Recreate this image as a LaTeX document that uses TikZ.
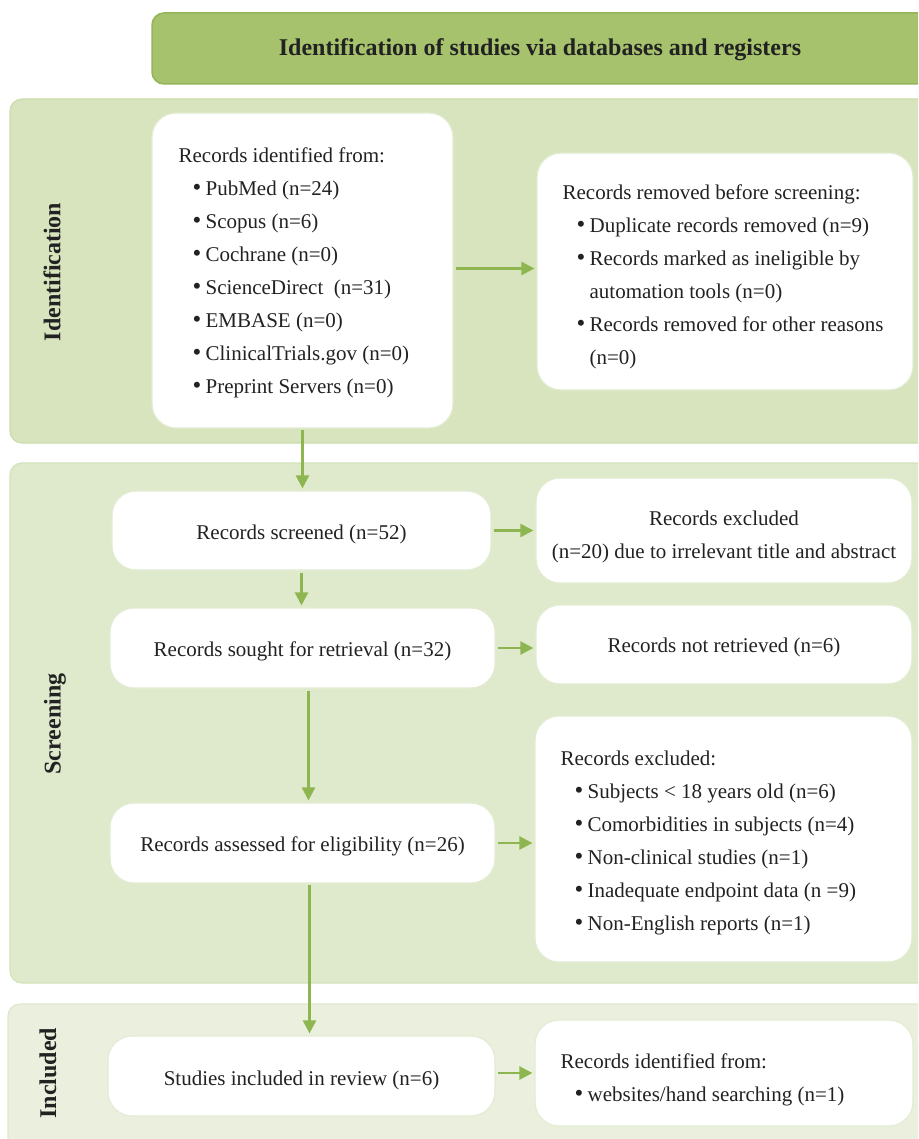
\documentclass[tikz,border=0pt]{standalone}
\usepackage{fontspec}
\setmainfont{Liberation Serif}
\usetikzlibrary{arrows.meta,calc}
\definecolor{hdrfill}{HTML}{A6C26C}
\definecolor{hdrdraw}{HTML}{94B45A}
\definecolor{idfill}{HTML}{D7E4BD}
\definecolor{iddraw}{HTML}{CCDCAE}
\definecolor{scfill}{HTML}{DFEACC}
\definecolor{scdraw}{HTML}{D3E2BA}
\definecolor{infill}{HTML}{EAF0DD}
\definecolor{indraw}{HTML}{DDE8CB}
\definecolor{boxdraw}{HTML}{E2ECD2}
\definecolor{arr}{HTML}{8DB650}
\definecolor{txt}{HTML}{222222}
\newcommand{\bl}[1]{\hspace*{14pt}\makebox[13pt][l]{\fontsize{25}{33}\selectfont\textbullet}#1}
\newcommand{\blc}[1]{\hspace*{27pt}#1}
\tikzset{
  x=1pt, y=-1pt,
  band/.style={rounded corners=12pt, line width=1.2pt},
  wbox/.style={draw=boxdraw, line width=1.2pt, fill=white, rounded corners=24pt, inner sep=0pt},
  ctext/.style={font=\fontsize{21}{33}\selectfont, text=txt, align=center, inner sep=0pt},
  ltext/.style={font=\fontsize{21}{33}\selectfont, text=txt, align=left, inner sep=0pt, anchor=west},
  side/.style={rotate=90, font=\fontsize{24}{28}\selectfont\bfseries, text=txt},
  flow/.style={draw=arr, line width=2.5pt, -{Triangle[length=13pt,width=13pt]}, shorten >=2pt},
}
\begin{document}
\begin{tikzpicture}
\useasboundingbox (0,0) rectangle (918,1139);
\clip (0,0) rectangle (918,1139);
% header
\node (hdr) [draw=hdrdraw, fill=hdrfill, line width=1.5pt, rounded corners=12pt,
  minimum width=780pt, minimum height=71pt, inner sep=0pt] at (542,48.5) {};
\node (hdrtext) [font=\fontsize{24}{28}\selectfont\bfseries, text=txt] at (540,50)
  {Identification of studies via databases and registers};
% bands
\node (bid) [band, draw=iddraw, fill=idfill, minimum width=922pt, minimum height=344pt, inner sep=0pt] at (471,271) {};
\node (bsc) [band, draw=scdraw, fill=scfill, minimum width=922pt, minimum height=520pt, inner sep=0pt] at (471,723) {};
\node (bin) [band, draw=indraw, fill=infill, minimum width=924pt, minimum height=150pt, inner sep=0pt] at (470,1079) {};
\node (lid) [side] at (52,272) {Identification};
\node (lsc) [side] at (55,724) {Screening};
\node (lin) [side] at (48,1073) {Included};
% boxes
\node (ident) [wbox, minimum width=301pt, minimum height=315pt] at (302.5,270.5) {};
\node (identt) [ltext] at ([xshift=27pt,yshift=-2pt]ident.west) {Records identified from:\\
\bl{PubMed (n=24)}\\
\bl{Scopus (n=6)}\\
\bl{Cochrane (n=0)}\\
\bl{ScienceDirect\ \ (n=31)}\\
\bl{EMBASE (n=0)}\\
\bl{ClinicalTrials.gov (n=0)}\\
\bl{Preprint Servers (n=0)}};
\node (rem) [wbox, minimum width=376pt, minimum height=237pt] at (725,271.5) {};
\node (remt) [ltext] at ([xshift=26pt,yshift=-5pt]rem.west) {Records removed before screening:\\
\bl{Duplicate records removed (n=9)}\\
\bl{Records marked as ineligible by}\\
\blc{automation tools (n=0)}\\
\bl{Records removed for other reasons}\\
\blc{(n=0)}};
\node (scr) [wbox, minimum width=379pt, minimum height=79pt] at (301.5,530.5) {};
\node (scrt) [ctext] at ([yshift=-4pt]scr.center) {Records screened (n=52)};
\node (exc1) [wbox, minimum width=376pt, minimum height=105pt] at (724,530.5) {};
\node (exc1t) [ctext] at ([yshift=-6pt]exc1.center) {Records excluded\\(n=20) due to irrelevant title and abstract};
\node (sought) [wbox, minimum width=385pt, minimum height=80pt] at (302.5,648) {};
\node (soughtt) [ctext] at ([yshift=-3pt]sought.center) {Records sought for retrieval (n=32)};
\node (notret) [wbox, minimum width=376pt, minimum height=79pt] at (724,644.5) {};
\node (notrett) [ctext] at ([yshift=-3pt]notret.center) {Records not retrieved (n=6)};
\node (assess) [wbox, minimum width=385pt, minimum height=80pt] at (302.5,843) {};
\node (assesst) [ctext] at ([yshift=-3pt]assess.center) {Records assessed for eligibility (n=26)};
\node (exc2) [wbox, minimum width=377pt, minimum height=246pt] at (723.5,839) {};
\node (exc2t) [ltext] at ([xshift=26pt,yshift=-4pt]exc2.west) {Records excluded:\\
\bl{Subjects < 18 years old (n=6)}\\
\bl{Comorbidities in subjects (n=4)}\\
\bl{Non-clinical studies (n=1)}\\
\bl{Inadequate endpoint data (n =9)}\\
\bl{Non-English reports (n=1)}};
\node (stud) [wbox, minimum width=387pt, minimum height=80pt] at (301.5,1076) {};
\node (studt) [ctext] at ([yshift=-4pt]stud.center) {Studies included in review (n=6)};
\node (web) [wbox, minimum width=378pt, minimum height=106pt] at (724,1073) {};
\node (webt) [ltext] at ([xshift=26pt,yshift=-7pt]web.west) {Records identified from:\\
\bl{websites/hand searching (n=1)}};
% arrows
\draw[flow, shorten <=1pt] (ident.south) -- (ident.south |- scr.north);
\draw[flow, shorten <=2pt] ([yshift=2pt]ident.east) -- ([yshift=2pt]ident.east -| rem.west);
\draw[flow, shorten <=2pt] (scr.east) -- (scr.east -| exc1.west);
\draw[flow, shorten <=2pt] (sought.east) -- (sought.east -| notret.west);
\draw[flow, shorten <=2pt] (assess.east) -- (assess.east -| exc2.west);
\draw[flow, shorten <=2pt] ([yshift=3pt]stud.east) -- ([yshift=3pt]stud.east -| web.west);
\draw[flow, shorten <=2pt] (scr.south) -- (scr.south |- sought.north);
\draw[flow, shorten <=2pt] ([xshift=6pt]sought.south) -- ([xshift=6pt]sought.south |- assess.north);
\draw[flow, shorten <=1pt] ([xshift=7pt]assess.south) -- ([xshift=7pt]assess.south |- stud.north);
\end{tikzpicture}
\end{document}
